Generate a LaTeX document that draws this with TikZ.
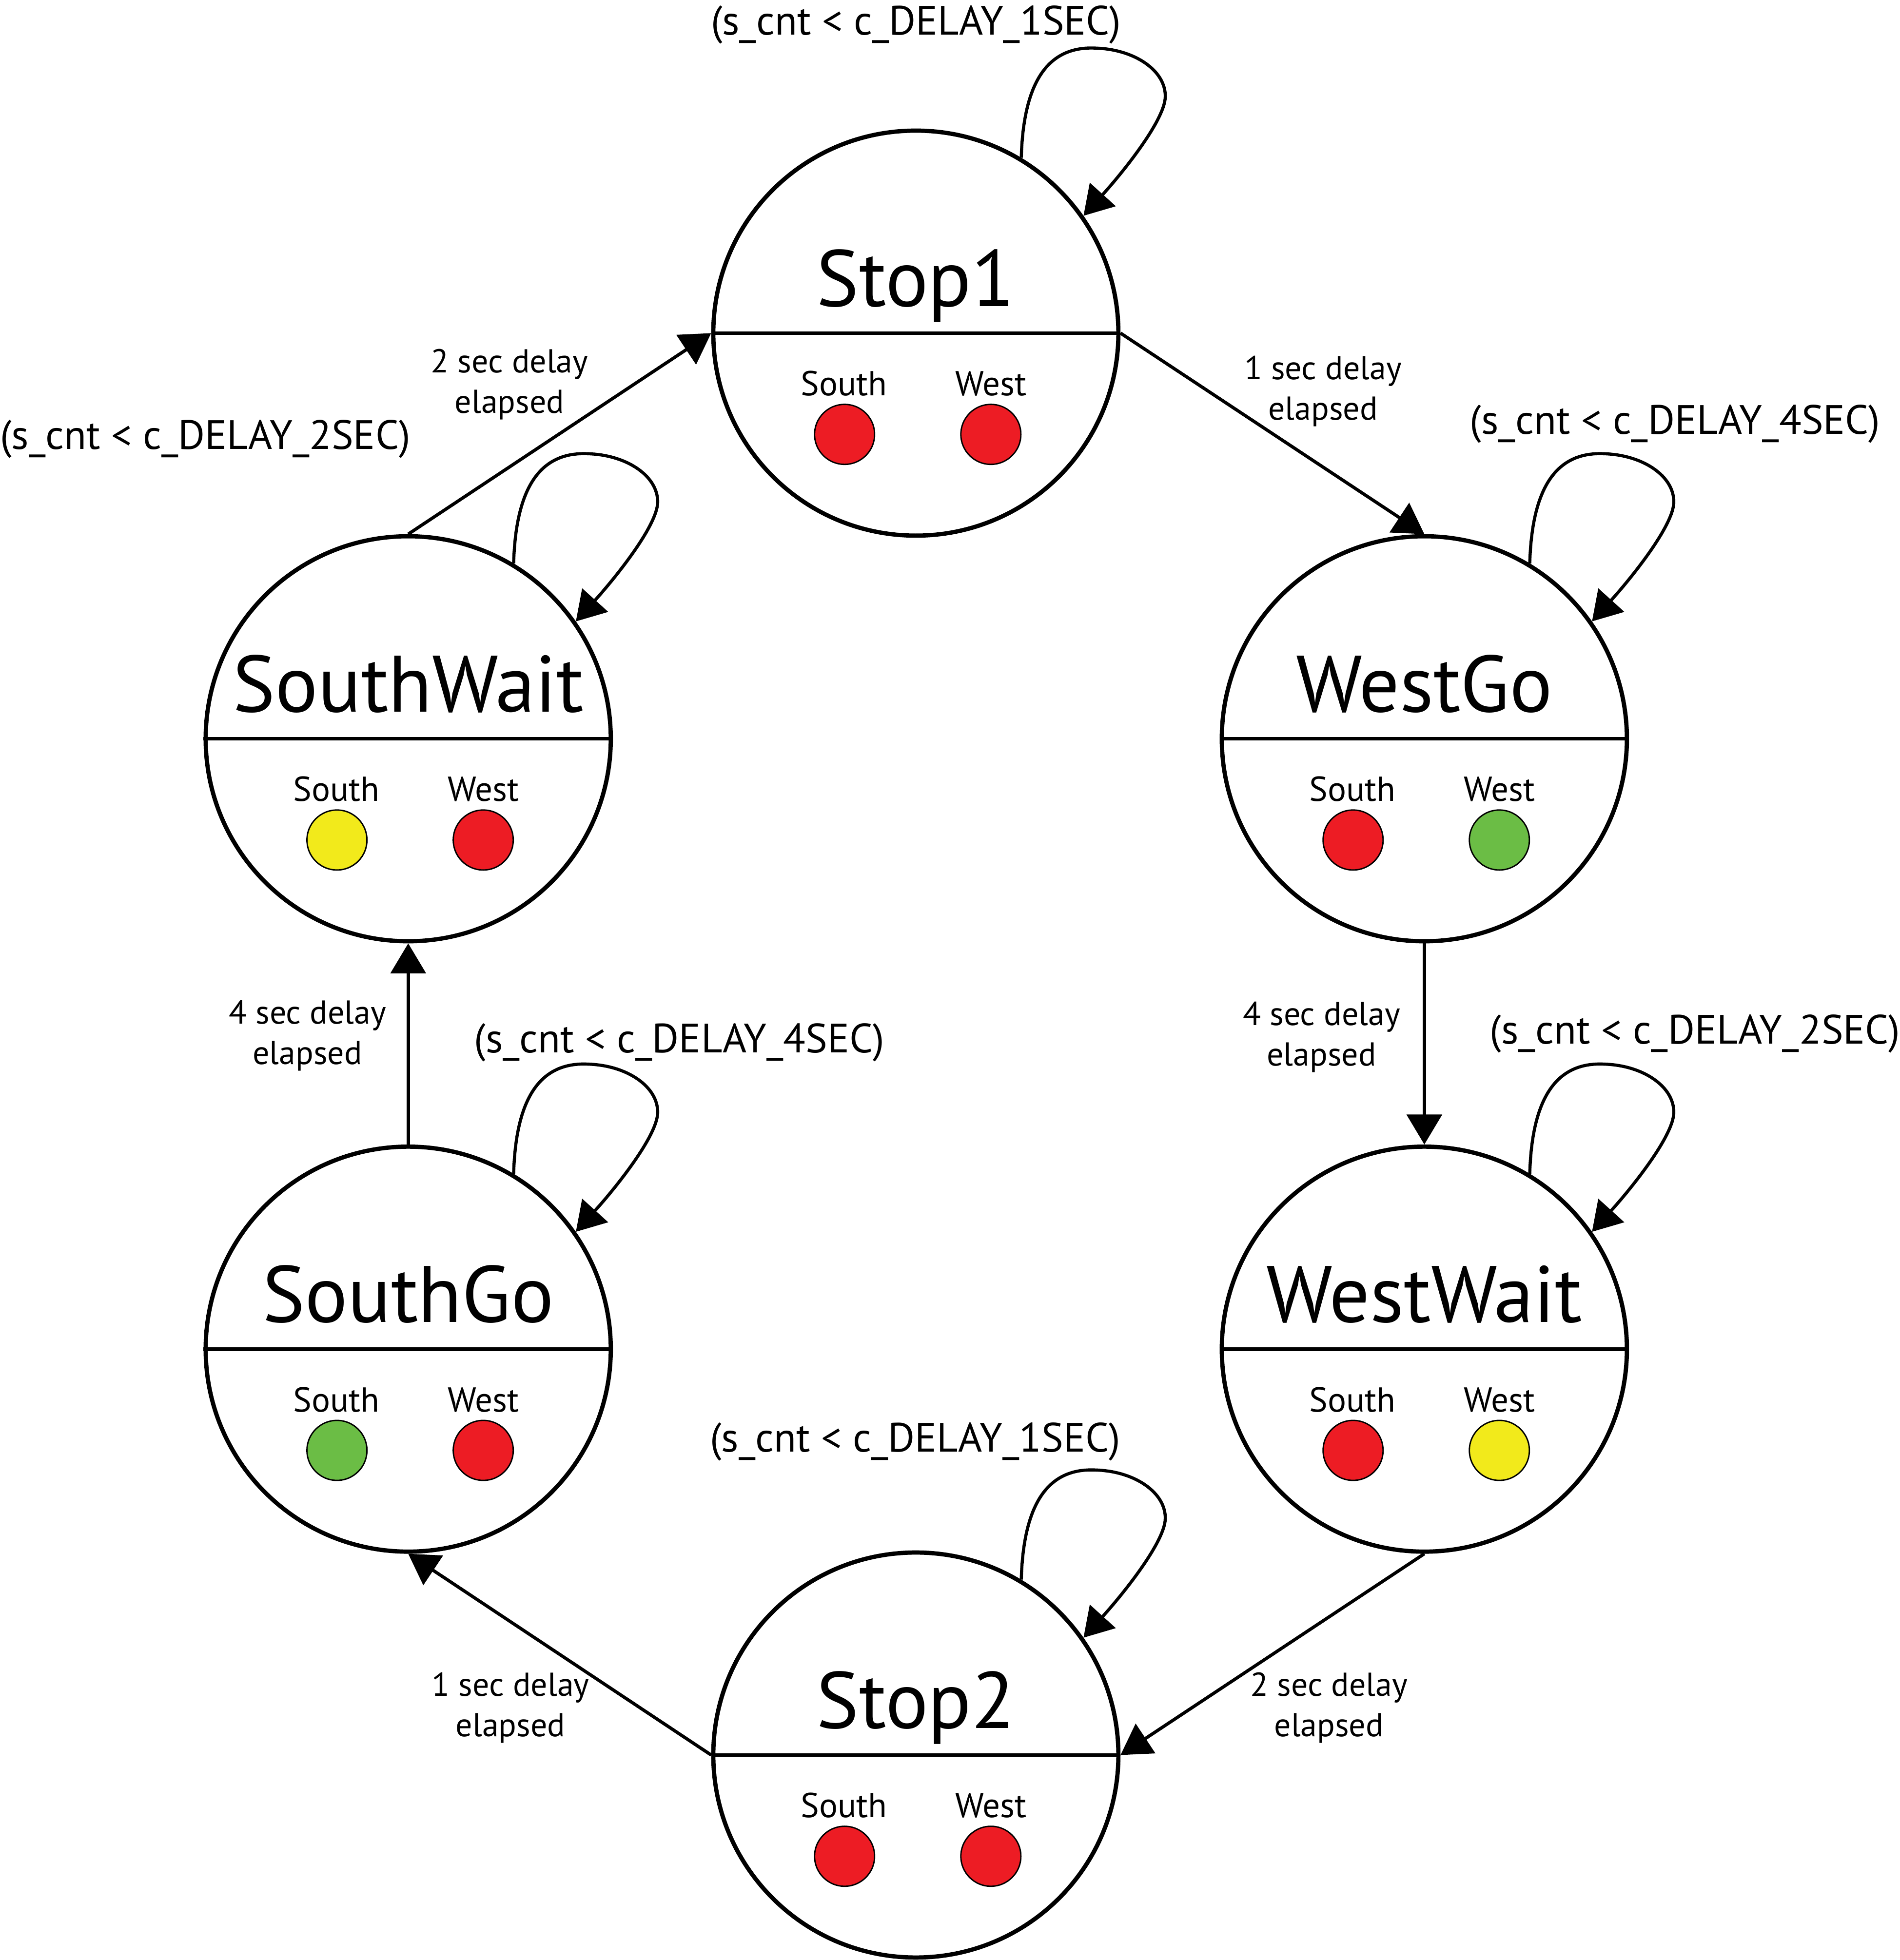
\documentclass[tikz,border=0pt]{standalone}
\usepackage{fontspec}
\setmainfont{PT Sans}
\usetikzlibrary{arrows.meta,calc}
\definecolor{lred}{HTML}{ED1C24}
\definecolor{lyellow}{HTML}{F2EA1B}
\definecolor{lgreen}{HTML}{6BBD45}
\newcommand\fsmstate[6]{%
  \node[statecircle] (#1) at (#2,#3) {};
  \draw[divider] (#1.west) -- (#1.east);
  \node[statetitle] (#1-t) at ($(#1.center)+(0,-21.5)$) {#4};
  \node[lamplabel] (#1-sl) at ($(#1.center)+(-57.5,50)$) {South};
  \node[lamplabel] (#1-wl) at ($(#1.center)+(60,50)$) {West};
  \node[lamp, fill=#5] (#1-s) at ($(#1.center)+(-57,81)$) {};
  \node[lamp, fill=#6] (#1-w) at ($(#1.center)+(60,81)$) {};
}
\newcommand\fsmloop[1]{%
  \begin{scope}[shift={(#1.center)}]
    \draw[loopline] (#1.59) .. controls (86,-200) and (105,-230) .. (144,-228)
      .. controls (175,-227) and (200,-210) .. (199.5,-189)
      .. controls (199,-170) and (165,-128) .. (#1.35);
  \end{scope}
}
\begin{document}
\begin{tikzpicture}[x=1pt,y=-1pt,
  statecircle/.style={circle, draw, line width=3.4pt, minimum size=324pt, inner sep=0pt},
  divider/.style={line width=3pt},
  statetitle/.style={anchor=base, inner sep=0pt, font=\fontsize{64}{72}\selectfont},
  lamplabel/.style={anchor=base, inner sep=0pt, font=\fontsize{27.7}{32}\selectfont},
  lamp/.style={circle, draw, line width=1.1pt, minimum size=48pt, inner sep=0pt},
  cond/.style={anchor=base, inner sep=0pt, font=\fontsize{32.8}{38}\selectfont},
  edgelabel/.style={anchor=base, inner sep=0pt, align=center, font=\fontsize{26.5}{32.3}\selectfont},
  trans/.style={line width=2.6pt, -{Triangle[length=24pt, width=28pt]}},
  loopline/.style={line width=2.5pt, -{Triangle[length=23pt, width=27.5pt]}}
]
\useasboundingbox (0,0) rectangle (1519.6,1568);

\fsmstate{stopone}{732.5}{266.5}{Stop1}{lred}{lred}
\fsmstate{westgo}{1139.2}{591}{WestGo}{lred}{lgreen}
\fsmstate{westwait}{1139.2}{1079.3}{WestWait}{lred}{lyellow}
\fsmstate{stoptwo}{732.5}{1404}{Stop2}{lred}{lred}
\fsmstate{southgo}{326.5}{1079.3}{SouthGo}{lgreen}{lred}
\fsmstate{southwait}{326.5}{591}{SouthWait}{lyellow}{lred}

\draw[trans] (stopone.east) -- (westgo.north);
\draw[trans] (westgo.south) -- (westwait.north);
\draw[trans] (westwait.south) -- (stoptwo.east);
\draw[trans] (stoptwo.west) -- (southgo.south);
\draw[trans] (southgo.north) -- (southwait.south);
\draw[trans] (southwait.north) -- (stopone.west);

\fsmloop{stopone}
\fsmloop{westgo}
\fsmloop{westwait}
\fsmloop{stoptwo}
\fsmloop{southgo}
\fsmloop{southwait}

\node[cond] (c1) at (732.6,27.7) {(s\_cnt < c\_DELAY\_1SEC)};
\node[cond] (c2) at (1339.7,347.1) {(s\_cnt < c\_DELAY\_4SEC)};
\node[cond] (c3) at (1355.7,834.9) {(s\_cnt < c\_DELAY\_2SEC)};
\node[cond] (c4) at (731.9,1161.4) {(s\_cnt < c\_DELAY\_1SEC)};
\node[cond] (c5) at (543.3,841.9) {(s\_cnt < c\_DELAY\_4SEC)};
\node[cond] (c6) at (164.1,359.5) {(s\_cnt < c\_DELAY\_2SEC)};

\node[edgelabel] (e1) at (1058.1,335.9) {1 sec delay\\elapsed};
\node[edgelabel] (e2) at (1057,852.6) {4 sec delay\\elapsed};
\node[edgelabel] (e3) at (1062.9,1389.1) {2 sec delay\\elapsed};
\node[edgelabel] (e4) at (408.3,1389.1) {1 sec delay\\elapsed};
\node[edgelabel] (e5) at (245.9,851.5) {4 sec delay\\elapsed};
\node[edgelabel] (e6) at (407.5,330.3) {2 sec delay\\elapsed};
\end{tikzpicture}
\end{document}
